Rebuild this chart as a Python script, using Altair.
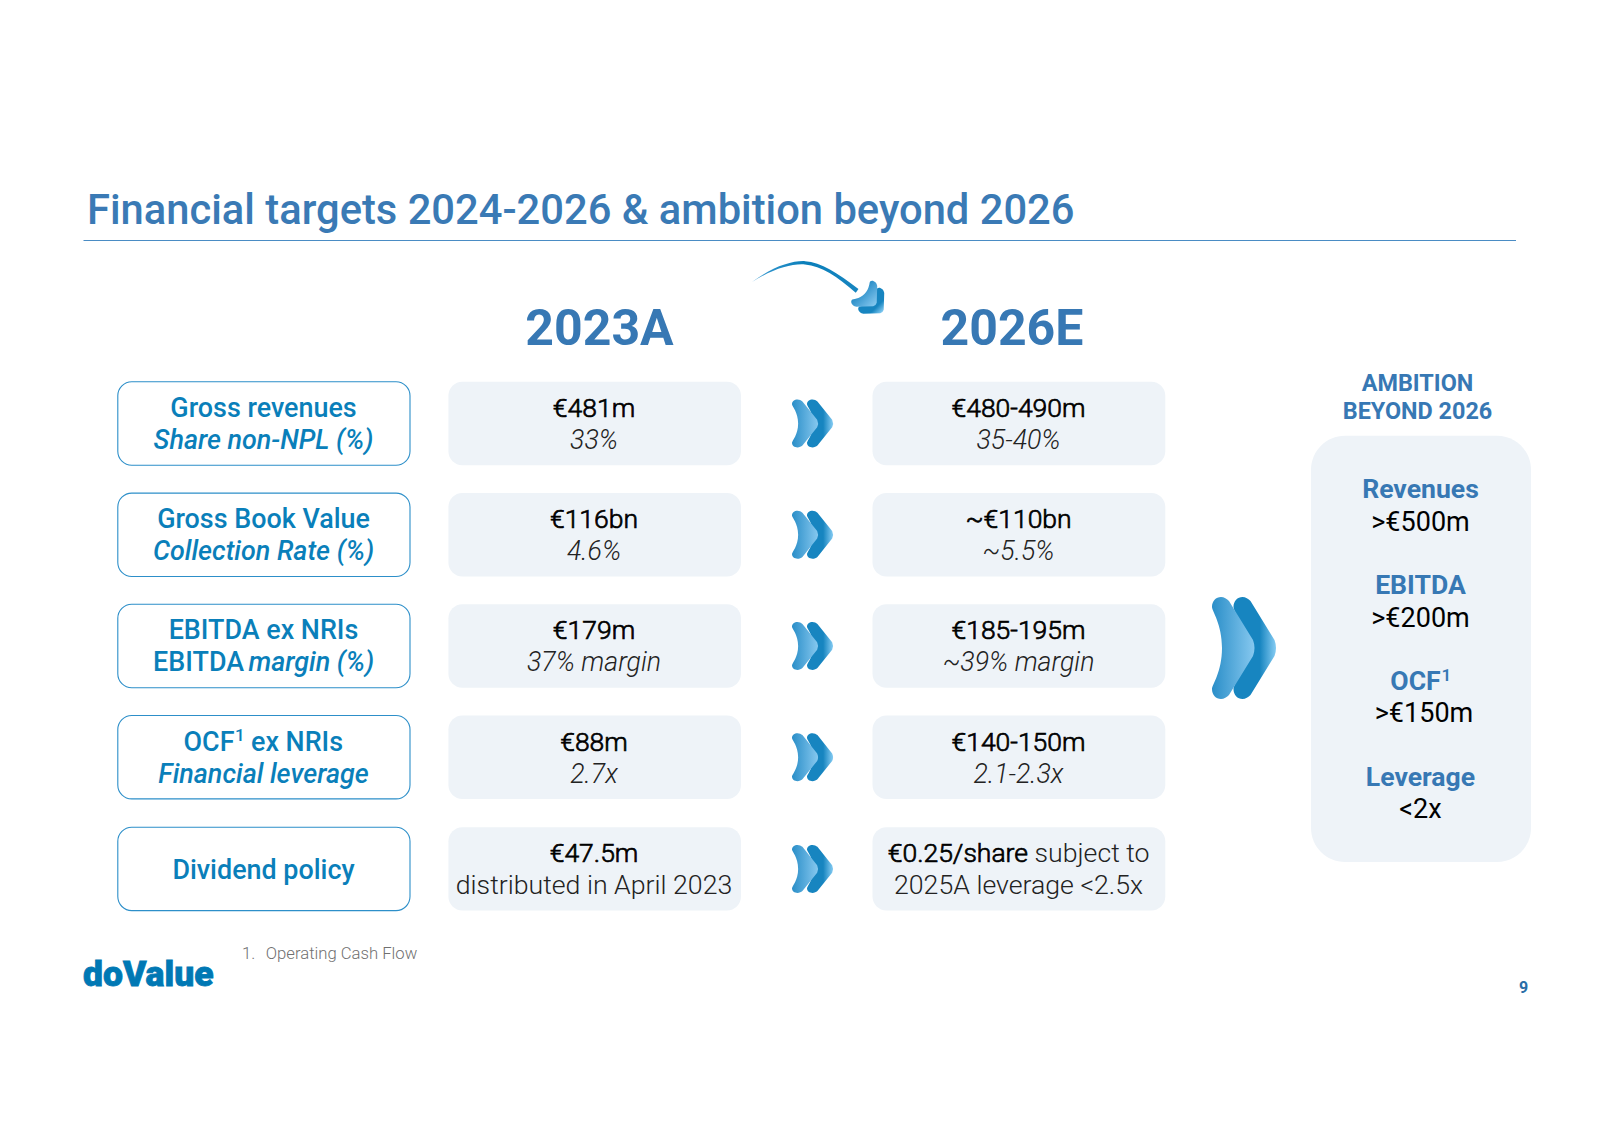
import altair as alt
import pandas as pd

# ---------- content ----------
title_text = "Financial targets 2024-2026 & ambition beyond 2026"
col_heads = ["2023A", "2026E"]
labels_top = ["Gross revenues", "Gross Book Value", "EBITDA ex NRIs"]
labels_sub = ["Share non-NPL (%)", "Collection Rate (%)", None, "Financial leverage"]
main_2023 = ["€481m", "€116bn", "€179m", "€88m", "€47.5m"]
sub_2023 = ["33%", "4.6%", "37% margin", "2.7x"]
main_2026 = ["€480-490m", "~€110bn", "€185-195m", "€140-150m"]
sub_2026 = ["35-40%", "~5.5%", "~39% margin", "2.1-2.3x"]
amb_head = ["AMBITION", "BEYOND 2026"]
amb_names = ["Revenues", "EBITDA", None, "Leverage"]
amb_vals = [">€500m", ">€200m", ">€150m", "<2x"]

# ---------- layout (slide pixels) ----------
ROW_TOP = [381.8, 493.1, 604.3, 715.5, 827.2]
ROW_H = 83.4
BLUE = "#3778b4"
TEAL = "#0a7fba"
PANEL = "#eef3f8"
sx = alt.Scale(domain=[8, 1592], range=[0, 1584], nice=False, zero=False)
sy = alt.Scale(domain=[1118, 8], nice=False, zero=False)
X = alt.X("x:Q", scale=sx, axis=None)
Y = alt.Y("y:Q", scale=sy, axis=None)
X2 = alt.X2("x2:Q")
Y2 = alt.Y2("y2:Q")


def txt(items, **style):
    df = pd.DataFrame(items, columns=["t", "x", "y"])
    style.setdefault("font", "Roboto")
    style.setdefault("baseline", "alphabetic")
    return alt.Chart(df).mark_text(**style).encode(x=X, y=Y, text="t:N")


def box(items, **style):
    df = pd.DataFrame(items, columns=["x", "x2", "y", "y2"])
    return alt.Chart(df).mark_rect(**style).encode(x=X, x2=X2, y=Y, y2=Y2)


def chev(r):
    """Chevron outline, y in [-1,1], half-width r."""
    fx = lambda v: round((v / 44 * 2 - 1) * r, 4)
    fy = lambda v: round(v / 51 - 1, 4)
    p = lambda a, b: f"{fx(a)},{fy(b)}"
    return (
        f"M{p(0,10)} C{p(0,4)} {p(4,0)} {p(9,0)} C{p(12,0)} {p(15,2)} {p(17,4)} "
        f"L{p(41,43)} Q{p(44,51)} {p(41,59)} L{p(17,98)} C{p(15,100)} {p(12,102)} {p(9,102)} "
        f"C{p(4,102)} {p(0,98)} {p(0,92)} C{p(0,88)} {p(10,75)} {p(10,51)} C{p(10,27)} {p(0,14)} {p(0,10)} Z"
    )


def grad(stops):
    return alt.LinearGradient(
        gradient="linear", x1=0, x2=1, y1=0, y2=0,
        stops=[alt.GradientStop(offset=o, color=c) for o, c in stops],
    )


GF = grad([(0, "#2a8ec8"), (1, "#86c8ef")])
GB = grad([(0, "#1785c0"), (0.62, "#1785c0"), (1, "#86ccf3")])


def sym(points, shape, h, fill, angle=0):
    df = pd.DataFrame(points, columns=["x", "y"])
    return alt.Chart(df).mark_point(
        shape=shape, size=h * h, filled=True, fill=fill, opacity=1, angle=angle
    ).encode(x=X, y=Y)


layers = []

# title rule
layers.append(alt.Chart(pd.DataFrame([{"x": 83.5, "x2": 1516, "y": 240.5}])).mark_rule(
    color="#4a8cc4", strokeWidth=1).encode(x=X, x2=X2, y=Y))
layers.append(txt([(title_text, 87, 224)], fontSize=41.7, fontWeight=500, color="#3a7ab5", align="left"))

# column heads
layers.append(txt([(col_heads[0], 599.5, 345), (col_heads[1], 1012, 345)],
                  fontSize=50, fontWeight=700, color=BLUE, align="center"))

# boxes
layers.append(box([(117.8, 410, t, t + ROW_H) for t in ROW_TOP],
                  fill="#ffffff", stroke="#2d8fc9", strokeWidth=1.1, cornerRadius=14))
layers.append(box([(448.4, 741, t, t + ROW_H) for t in ROW_TOP], fill=PANEL, cornerRadius=14))
layers.append(box([(872.5, 1165.3, t, t + ROW_H) for t in ROW_TOP], fill=PANEL, cornerRadius=14))

# label texts
LX = 263.5
LBL = dict(fontSize=26.9, fontWeight=500, color=TEAL)
b1 = [t + 35 for t in ROW_TOP]
b2 = [t + 67 for t in ROW_TOP]
layers.append(txt([(labels_top[i], LX, b1[i]) for i in range(3)], align="center", **LBL))
layers.append(txt([("OCF", 234.5, b1[3])], align="right", **LBL))
layers.append(txt([("1", 235, b1[3] - 9.5)], align="left", fontSize=17, fontWeight=500, color=TEAL))
layers.append(txt([("ex NRIs", 251, b1[3])], align="left", **LBL))
layers.append(txt([(labels_sub[i], LX, b2[i]) for i in (0, 1, 3)],
                  fontStyle="italic", align="center", **LBL))
layers.append(txt([("EBITDA", 244, b2[2])], align="right", **LBL))
layers.append(txt([("margin (%)", 248.5, b2[2])], fontStyle="italic", align="left", **LBL))
layers.append(txt([("Dividend policy", LX, ROW_TOP[4] + 51.5)], align="center", **LBL))

# value texts
C1, C2 = 594, 1018.5
DARK = dict(fontSize=26.5, fontWeight=300, color="#000000", stroke="#000000", strokeWidth=0.7)
ITAL = dict(fontSize=26.7, fontWeight=300, fontStyle="italic", color="#222222", align="center")
LIGHT = dict(fontSize=26.7, fontWeight=300, color="#222222")
layers.append(txt([(main_2023[i], C1, b1[i]) for i in range(5)], align="center", **DARK))
layers.append(txt([(main_2026[i], C2, b1[i]) for i in range(4)], align="center", **DARK))
layers.append(txt([(sub_2023[i], C1, b2[i]) for i in range(4)], **ITAL))
layers.append(txt([(sub_2026[i], C2, b2[i]) for i in range(4)], **ITAL))
layers.append(txt([("distributed in April 2023", C1, b2[4])], align="center", **LIGHT))
layers.append(txt([("2025A leverage <2.5x", C2, b2[4])], align="center", **LIGHT))
layers.append(txt([("€0.25/share", 1028, b1[4])], align="right", **DARK))
layers.append(txt([("subject to", 1034.5, b1[4])], align="left", **LIGHT))

# chevrons
small = chev(27 / 48)
centers = [t + ROW_H / 2 for t in ROW_TOP]
layers.append(sym([(820.5, c) for c in centers], small, 48, GB))
layers.append(sym([(805.5, c) for c in centers], small, 48, GF))
large = chev(44 / 102)
layers.append(sym([(1255.5, 648)], large, 102, GB))
layers.append(sym([(1234, 648)], large, 102, GF))

# curved arrow with chevron head
arc = ("M-0.98,0.11 C-0.6,-0.17 -0.25,-0.285 0,-0.275 C0.3,-0.255 0.6,-0.06 0.99,0.24 "
       "L0.94,0.31 C0.6,0.01 0.3,-0.19 0,-0.215 C-0.25,-0.235 -0.6,-0.13 -0.98,0.11 Z")
layers.append(sym([(805, 276)], arc, 108,
                  grad([(0, "#3a9ad2"), (0.5, "#0a7fba"), (1, "#1785c0")])))
head = chev(0.66)
layers.append(sym([(875.5, 305)], head, 32, GB, angle=45))
layers.append(sym([(868.5, 298)], head, 32, GF, angle=45))

# ambition panel
AX = 1420.5
NAME = dict(fontSize=26.6, fontWeight=700, color=BLUE)
layers.append(txt([(amb_head[0], 1417.5, 391), (amb_head[1], 1417.5, 419)],
                  fontSize=23.4, fontWeight=700, color=BLUE, align="center"))
layers.append(box([(1311, 1531, 435.7, 862)], fill=PANEL, cornerRadius=34))
name_base = [497.7, 594, 690, 785.7]
val_base = [530.5, 626.5, 722, 817.5]
val_x = [AX, AX, 1424, AX]
layers.append(txt([(amb_names[i], AX, name_base[i]) for i in (0, 1, 3)], align="center", **NAME))
layers.append(txt([("OCF", 1440.7, name_base[2])], align="right", **NAME))
layers.append(txt([("1", 1441.5, name_base[2] - 9.5)], align="left", fontSize=17, fontWeight=600, color=BLUE))
layers.append(txt([(amb_vals[i], val_x[i], val_base[i]) for i in range(4)],
                  fontSize=27, fontWeight=400, color="#000000", align="center"))

# footer
layers.append(txt([("1.", 242, 959), ("Operating Cash Flow", 265.7, 959)],
                  fontSize=16.7, fontWeight=300, color="#707070", align="left"))
layers.append(txt([("doValue", 83, 986)], fontSize=35.5, fontWeight=900, color="#0078b4",
                  stroke="#0078b4", strokeWidth=0.8, align="left"))
layers.append(txt([("9", 1523.5, 993)], fontSize=16, fontWeight=700, color="#2a6ea8", align="center"))

chart = alt.layer(*layers).properties(
    width=1584, height=1110, padding=0, autosize=alt.AutoSizeParams(type="none")
).configure_view(stroke=None)

chart.save("out.html", embed_options={"renderer": "svg", "actions": False})
